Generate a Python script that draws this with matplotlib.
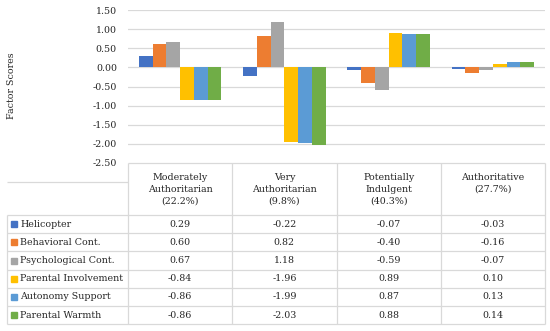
import numpy as np
import matplotlib
matplotlib.use('Agg')
import matplotlib.pyplot as plt

# data
clusters = ['Moderately\nAuthoritarian\n(22.2%)', 'Very\nAuthoritarian\n(9.8%)',
            'Potentially\nIndulgent\n(40.3%)', 'Authoritative\n(27.7%)']
series = ['Helicopter', 'Behavioral Cont.', 'Psychological Cont.',
          'Parental Involvement', 'Autonomy Support', 'Parental Warmth']
helicopter = [0.29, -0.22, -0.07, -0.03]
behavioral = [0.60, 0.82, -0.40, -0.16]
psychological = [0.67, 1.18, -0.59, -0.07]
involvement = [-0.84, -1.96, 0.89, 0.10]
autonomy = [-0.86, -1.99, 0.87, 0.13]
warmth = [-0.86, -2.03, 0.88, 0.14]
values = [helicopter, behavioral, psychological, involvement, autonomy, warmth]
colors = ['#4472C4', '#ED7D31', '#A5A5A5', '#FFC000', '#5B9BD5', '#70AD47']

plt.rcParams['font.family'] = ['DejaVu Serif']
W, H = 550, 331
fig = plt.figure(figsize=(W / 100, H / 100), dpi=100)

# pixel layout
left, right, top, chart_bot = 128, 545, 10, 163
head_bot, row_h = 215, 18.2
grid_c = '#D9D9D9'
fs = 6.8
tc = '#262626'

ax = fig.add_axes([left / W, 1 - chart_bot / H, (right - left) / W, (chart_bot - top) / H])
n = len(series)
bw = 1 / (n + 1.6)
x = np.arange(len(clusters))
for j in range(n):
    ax.bar(x + (j - (n - 1) / 2) * bw, values[j], bw, color=colors[j], zorder=3)
ax.set_xlim(-0.5, len(clusters) - 0.5)
ax.set_ylim(-2.5, 1.5)
yt = np.arange(-2.5, 1.51, 0.5)
ax.set_yticks(yt)
ax.set_yticklabels(['%.2f' % v for v in yt], fontsize=fs, color=tc)
ax.set_xticks([])
ax.tick_params(axis='y', length=0, pad=8)
for s in ax.spines.values():
    s.set_visible(False)
for v in yt[1:]:
    ax.axhline(v, color=grid_c, lw=0.9, zorder=1)
fig.text(12 / W, 1 - 86 / H, 'Factor Scores', rotation=90, ha='center', va='center',
         fontsize=fs, color=tc)

# data table
tab = fig.add_axes([0, 0, 1, 1])
tab.set_xlim(0, W)
tab.set_ylim(H, 0)
tab.axis('off')
col_w = (right - left) / len(clusters)
bottom = head_bot + row_h * n
lc = '#D9D9D9'
tab.hlines(chart_bot, left, right, color=lc, lw=0.9)
tab.hlines(182, 7, left, color=lc, lw=0.9)
for k in range(n + 1):
    tab.hlines(head_bot + k * row_h, 7, right, color=lc, lw=0.9)
for c in range(len(clusters) + 1):
    tab.vlines(left + c * col_w, chart_bot, bottom, color=lc, lw=0.9)
tab.vlines(7, head_bot, bottom, color=lc, lw=0.9)

for c, name in enumerate(clusters):
    tab.text(left + (c + 0.5) * col_w, 173, name, ha='center', va='top',
             fontsize=fs, linespacing=1.42, color=tc)
for j in range(n):
    yc = head_bot + (j + 0.5) * row_h
    tab.add_patch(plt.Rectangle((11, yc - 3), 6, 6, color=colors[j]))
    tab.text(20.5, yc, series[j], ha='left', va='center', fontsize=fs, color=tc)
    for c in range(len(clusters)):
        tab.text(left + (c + 0.5) * col_w, yc, '%.2f' % values[j][c],
                 ha='center', va='center', fontsize=fs, color=tc)

fig.savefig('out.png', dpi=100)
